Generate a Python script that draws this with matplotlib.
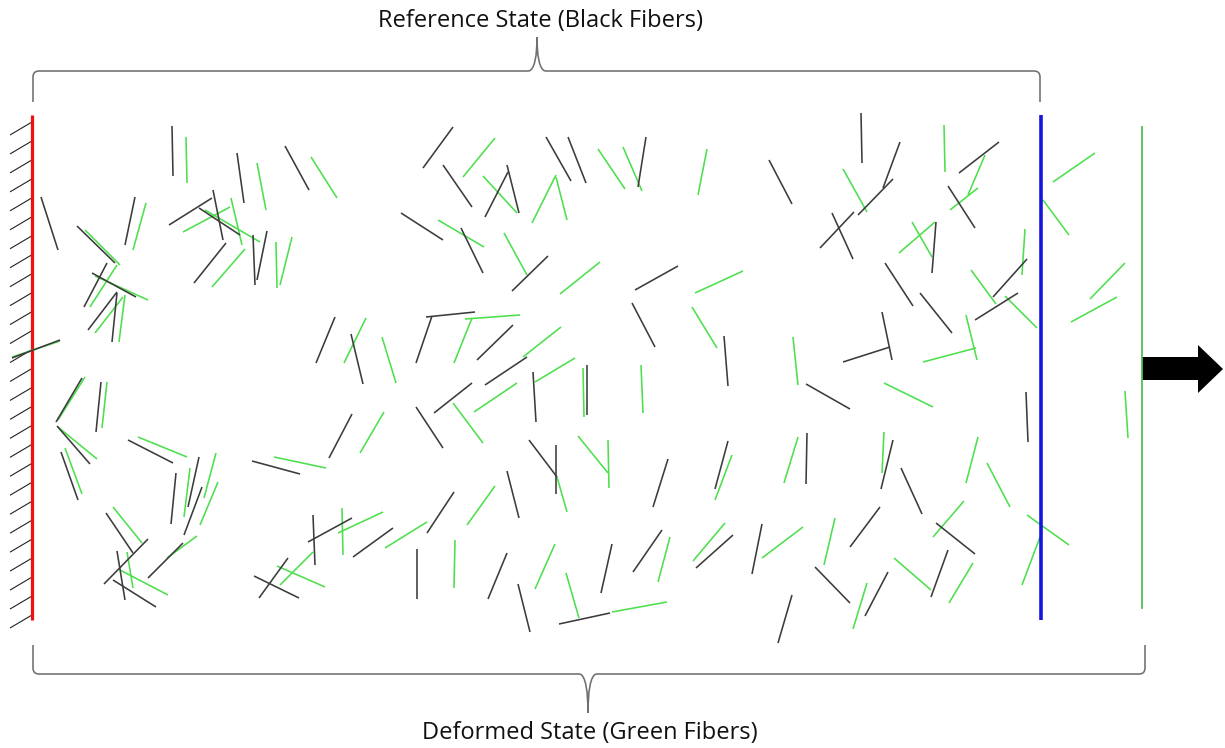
import numpy as np
import matplotlib
matplotlib.use("Agg")
import matplotlib.pyplot as plt
from matplotlib.collections import LineCollection
from matplotlib.path import Path
from matplotlib.patches import PathPatch, Polygon

# Fibras de referencia (x1, y1, x2, y2) en pixeles de la imagen
black_fibers = [
    (41, 197, 58, 250), (77, 226, 115, 263), (135, 197, 125, 245), (107, 263, 84, 307),
    (92, 273, 136, 297), (117, 292, 88, 330), (117, 293, 112, 342), (12, 358, 60, 340),
    (172, 126, 173, 176), (237, 153, 244, 203), (285, 146, 309, 190), (169, 225, 212, 198),
    (213, 190, 223, 240), (199, 208, 240, 235), (226, 243, 194, 283), (253, 235, 255, 285),
    (267, 231, 257, 280), (453, 127, 423, 168), (443, 165, 472, 207), (507, 165, 519, 213),
    (508, 172, 485, 217), (546, 137, 571, 181), (568, 137, 586, 183), (401, 213, 443, 240),
    (461, 228, 483, 273), (548, 256, 512, 291), (335, 317, 316, 363), (351, 334, 363, 384),
    (426, 317, 475, 312), (432, 316, 416, 363), (513, 325, 477, 360), (527, 357, 485, 385),
    (533, 372, 536, 422), (587, 365, 587, 415), (646, 137, 638, 187), (769, 160, 792, 204),
    (861, 113, 862, 163), (893, 179, 858, 215), (832, 213, 853, 259), (854, 212, 820, 248),
    (635, 290, 678, 266), (632, 303, 655, 347), (724, 336, 728, 386), (843, 362, 890, 347),
    (882, 312, 892, 360), (900, 142, 883, 188), (999, 142, 959, 173), (948, 186, 975, 228),
    (936, 222, 932, 273), (885, 263, 913, 306), (920, 293, 952, 333), (1027, 259, 993, 297),
    (1018, 293, 975, 320), (1026, 392, 1028, 442), (893, 440, 881, 489), (901, 468, 922, 514),
    (936, 523, 975, 554), (948, 550, 931, 597), (888, 572, 865, 616), (806, 384, 850, 409),
    (668, 459, 653, 507), (728, 441, 715, 489), (807, 433, 806, 484), (612, 544, 601, 593),
    (662, 530, 633, 572), (733, 535, 696, 568), (762, 524, 752, 574), (880, 507, 850, 547),
    (815, 567, 850, 603), (559, 624, 610, 613), (792, 595, 778, 643), (472, 383, 434, 413),
    (416, 407, 443, 448), (352, 414, 329, 458), (252, 461, 300, 474), (529, 440, 557, 477),
    (556, 445, 556, 494), (507, 471, 519, 518), (454, 492, 427, 533), (393, 528, 353, 557),
    (352, 518, 308, 542), (313, 515, 315, 565), (288, 558, 259, 598), (254, 576, 299, 598),
    (417, 549, 417, 599), (507, 553, 488, 599), (518, 584, 530, 632), (82, 378, 56, 422),
    (101, 382, 96, 432), (57, 426, 90, 464), (61, 452, 78, 500), (128, 440, 173, 463),
    (176, 473, 171, 524), (199, 457, 188, 507), (202, 487, 184, 535), (106, 513, 133, 553),
    (148, 539, 104, 584), (117, 551, 125, 600), (113, 580, 156, 607), (183, 543, 148, 578),
]

# Fibras deformadas
green_fibers = [
    (146, 203, 133, 250), (117, 265, 90, 307), (95, 276, 148, 300), (123, 297, 95, 333),
    (125, 295, 119, 342), (12, 357, 60, 341), (186, 137, 187, 183), (257, 163, 266, 210),
    (311, 157, 337, 198), (183, 232, 230, 207), (231, 198, 242, 245), (245, 249, 212, 287),
    (276, 242, 277, 288), (292, 237, 280, 285), (495, 138, 463, 177), (483, 176, 517, 213),
    (556, 175, 532, 223), (556, 177, 567, 220), (438, 220, 484, 247), (504, 233, 527, 275),
    (600, 262, 560, 294), (366, 318, 344, 363), (382, 337, 396, 383), (465, 319, 520, 315),
    (472, 318, 454, 363), (561, 327, 523, 357), (575, 358, 535, 382), (583, 368, 584, 417),
    (598, 149, 625, 189), (623, 147, 642, 191), (707, 149, 698, 195), (843, 169, 867, 212),
    (695, 293, 743, 271), (692, 307, 717, 348), (793, 337, 798, 385), (641, 365, 643, 413),
    (944, 125, 945, 172), (985, 155, 968, 195), (978, 188, 950, 210), (935, 222, 899, 253),
    (912, 222, 932, 257), (1025, 229, 1022, 275), (971, 270, 996, 304), (1005, 296, 1037, 328),
    (966, 315, 977, 360), (923, 362, 976, 348), (1095, 153, 1053, 182), (1043, 200, 1069, 235),
    (1125, 263, 1090, 299), (1117, 297, 1071, 322), (884, 383, 933, 407), (1125, 391, 1128, 438),
    (884, 432, 882, 473), (978, 437, 966, 483), (987, 463, 1010, 507), (964, 501, 933, 537),
    (1027, 515, 1069, 545), (1040, 537, 1022, 585), (894, 558, 931, 590), (973, 563, 949, 603),
    (578, 436, 608, 473), (608, 440, 609, 488), (732, 455, 715, 500), (798, 437, 784, 483),
    (670, 537, 658, 582), (725, 523, 693, 561), (803, 527, 762, 558), (835, 518, 824, 565),
    (867, 583, 853, 629), (612, 612, 667, 602), (517, 383, 474, 412), (453, 403, 483, 443),
    (384, 412, 360, 453), (274, 457, 326, 468), (557, 477, 567, 512), (495, 486, 467, 525),
    (427, 522, 385, 548), (383, 512, 338, 533), (342, 508, 343, 555), (277, 566, 325, 587),
    (313, 552, 280, 585), (455, 540, 454, 588), (555, 544, 535, 589), (566, 573, 579, 618),
    (85, 377, 58, 420), (107, 382, 102, 428), (58, 427, 97, 459), (65, 448, 82, 494),
    (138, 437, 187, 457), (190, 468, 184, 517), (216, 453, 204, 498), (218, 482, 200, 525),
    (113, 507, 142, 543), (127, 552, 133, 588), (120, 570, 168, 595), (197, 536, 167, 558),
    (205, 210, 260, 242), (85, 230, 120, 265),
]

top_label = "Reference State (Black Fibers)"
bottom_label = "Deformed State (Green Fibers)"

W, H = 1225, 748
PX = 0.72  # puntos por pixel a 100 dpi


def segs(lst):
    return [[(a, b), (c, d)] for a, b, c, d in lst]


def brace(ax, x0, x1, xm, y_line, y_end, y_tip, r=6, w=9):
    s = 1 if y_end > y_line else -1
    t = y_tip - y_line
    verts = [(x0, y_end), (x0, y_line + s * r), (x0, y_line), (x0 + r, y_line),
             (xm - w, y_line),
             (xm - 2, y_line), (xm, y_line + 0.5 * t), (xm, y_tip),
             (xm, y_line + 0.5 * t), (xm + 2, y_line), (xm + w, y_line),
             (x1 - r, y_line), (x1, y_line), (x1, y_line + s * r), (x1, y_end)]
    codes = [Path.MOVETO, Path.LINETO, Path.CURVE3, Path.CURVE3,
             Path.LINETO,
             Path.CURVE4, Path.CURVE4, Path.CURVE4,
             Path.CURVE4, Path.CURVE4, Path.CURVE4,
             Path.LINETO, Path.CURVE3, Path.CURVE3, Path.LINETO]
    ax.add_patch(PathPatch(Path(verts, codes), facecolor="none",
                           edgecolor="#707070", lw=1.6 * PX))


fig = plt.figure(figsize=(W / 100, H / 100), dpi=100)
ax = fig.add_axes([0, 0, 1, 1])
ax.set_xlim(0, W)
ax.set_ylim(H, 0)
ax.axis("off")

# pared empotrada
wall_y = np.linspace(122, 615, 27)
ax.add_collection(LineCollection([[(32, y), (10, y + 13)] for y in wall_y],
                                 colors="#202020", linewidths=1.1 * PX))
ax.plot([32, 32], [115, 620], color="#ee1111", lw=3.2 * PX, solid_capstyle="butt")

ax.add_collection(LineCollection(segs(green_fibers), colors="#4ddf4d", linewidths=1.6 * PX))
ax.add_collection(LineCollection(segs(black_fibers), colors="#3c3c3c", linewidths=1.6 * PX))

# borde de referencia y borde deformado
ax.plot([1041, 1041], [115, 620], color="#1515dd", lw=3.6 * PX, solid_capstyle="butt")
ax.plot([1142, 1142], [127, 608], color="#4cc04c", lw=1.8 * PX)

ax.add_patch(Polygon([(1142, 357), (1198, 357), (1198, 345), (1223, 369),
                      (1198, 393), (1198, 380), (1142, 380)], closed=True,
                     facecolor="black", edgecolor="none"))

brace(ax, 33, 1040, 537, 71, 102, 37)
brace(ax, 33, 1145, 588, 674, 645, 713)

ax.text(541, 27, top_label, ha="center", va="baseline", fontsize=17,
        family=["Open Sans", "DejaVu Sans"], color="#111111")
ax.text(590, 739, bottom_label, ha="center", va="baseline", fontsize=17,
        family=["Open Sans", "DejaVu Sans"], color="#111111")

fig.savefig("out.png", dpi=100)
